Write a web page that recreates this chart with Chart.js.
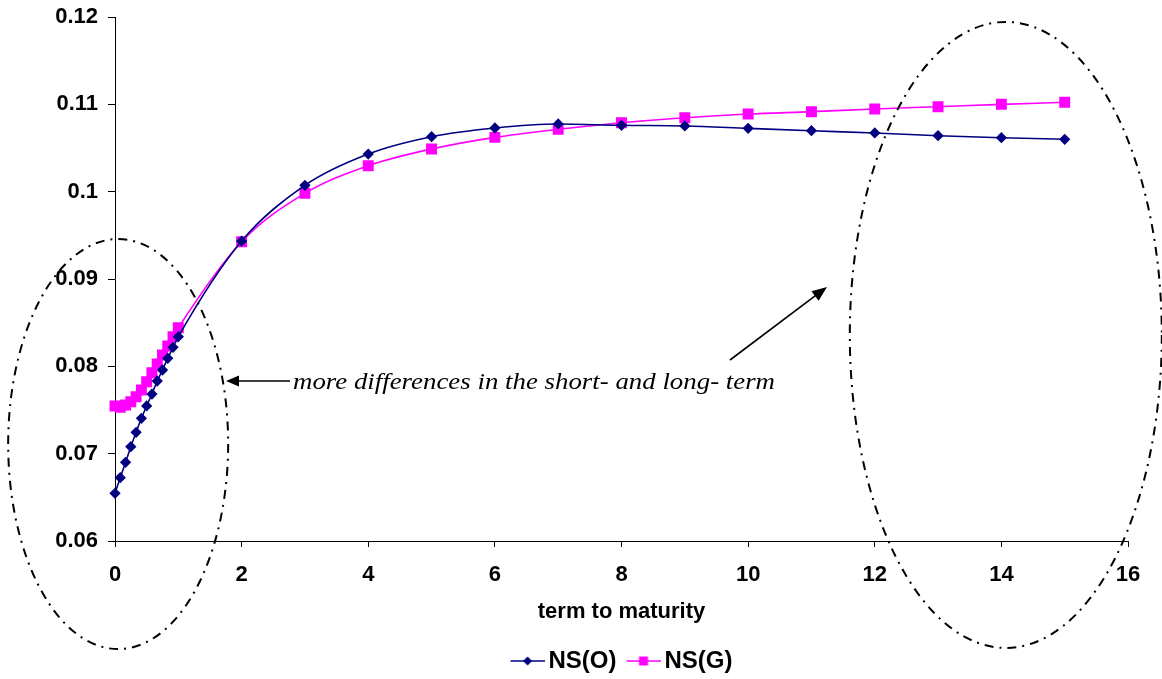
<!DOCTYPE html>
<html>
<head>
<meta charset="utf-8">
<script src="https://cdn.jsdelivr.net/npm/chart.js@4/dist/chart.umd.min.js"></script>
<style>
  html, body { margin: 0; padding: 0; background: #ffffff; }
  #wrap { width: 1162px; height: 679px; position: relative; }
</style>
</head>
<body>
<div id="wrap"><canvas id="c" width="1162" height="679"></canvas></div>
<script>
// ---- data ----
const maturities = [0, 0.0833, 0.1667, 0.25, 0.3333, 0.4167, 0.5, 0.5833, 0.6667, 0.75, 0.8333, 0.9167, 1,
                    2, 3, 4, 5, 6, 7, 8, 9, 10, 11, 12, 13, 14, 15];
const nsO = [0.06546, 0.06725, 0.06901, 0.07080, 0.07244, 0.07405, 0.07546, 0.07683, 0.07832, 0.07958, 0.08092, 0.08218, 0.08339,
             0.09435, 0.10073, 0.10431, 0.10629, 0.10729, 0.10775, 0.10760, 0.10752, 0.10725, 0.10698, 0.10672, 0.10641, 0.10618, 0.10600];
const nsG = [0.07546, 0.07531, 0.07557, 0.07595, 0.07652, 0.07729, 0.07824, 0.07927, 0.08027, 0.08130, 0.08233, 0.08339, 0.08442,
             0.09427, 0.09981, 0.10297, 0.10489, 0.10622, 0.10714, 0.10790, 0.10847, 0.10889, 0.10916, 0.10947, 0.10973, 0.11000, 0.11023];
const seriesNames = ['NS(O)', 'NS(G)'];
const yTicks = [0.06, 0.07, 0.08, 0.09, 0.1, 0.11, 0.12];
const xTicks = [0, 2, 4, 6, 8, 10, 12, 14, 16];
const xTitle = 'term to maturity';
const noteText = 'more differences in the short- and long- term';

const BLUE = '#000080';
const PINK = '#FF00FF';
const FONT = '"Liberation Sans", Arial, sans-serif';

function legendIcon(color, shape) {
  // visible symbol is 34px wide, offset 4px right of the canvas centre
  const c = document.createElement('canvas');
  c.width = 42; c.height = 14;
  const g = c.getContext('2d');
  g.strokeStyle = color; g.lineWidth = 1.5;
  g.beginPath(); g.moveTo(8, 7); g.lineTo(42, 7); g.stroke();
  g.fillStyle = color;
  g.beginPath();
  if (shape === 'diamond') {
    g.moveTo(25, 2.5); g.lineTo(29.5, 7); g.lineTo(25, 11.5); g.lineTo(20.5, 7);
  } else {
    g.rect(20.5, 2.5, 9, 9);
  }
  g.closePath(); g.fill();
  return c;
}
const icons = [legendIcon(BLUE, 'diamond'), legendIcon(PINK, 'square')];

const toPts = (ys) => ys.map((y, i) => ({ x: maturities[i], y: y }));

const annot = {
  id: 'annot',
  afterDraw(chart) {
    const ctx = chart.ctx;
    const xs = chart.scales.x, ys = chart.scales.y;
    ctx.save();
    ctx.strokeStyle = '#000'; ctx.lineWidth = 2;
    ctx.setLineDash([9, 6, 2, 6]);
    // left ellipse (around short end)
    ctx.beginPath();
    ctx.ellipse(xs.getPixelForValue(0.05), ys.getPixelForValue(0.0711), 110, 205, 0, 0, Math.PI * 2);
    ctx.stroke();
    // right ellipse (around long end)
    ctx.beginPath();
    ctx.ellipse(xs.getPixelForValue(14.07), ys.getPixelForValue(0.0836), 156, 313, 0, 0, Math.PI * 2);
    ctx.stroke();
    ctx.setLineDash([]);
    // arrows
    function arrow(x1, y1, x2, y2, head, hw) {
      const a = Math.atan2(y2 - y1, x2 - x1);
      ctx.lineWidth = 1.6;
      ctx.beginPath(); ctx.moveTo(x1, y1);
      ctx.lineTo(x2 - Math.cos(a) * head * 0.8, y2 - Math.sin(a) * head * 0.8); ctx.stroke();
      ctx.beginPath();
      ctx.moveTo(x2, y2);
      ctx.lineTo(x2 - Math.cos(a) * head + Math.sin(a) * hw, y2 - Math.sin(a) * head - Math.cos(a) * hw);
      ctx.lineTo(x2 - Math.cos(a) * head - Math.sin(a) * hw, y2 - Math.sin(a) * head + Math.cos(a) * hw);
      ctx.closePath(); ctx.fillStyle = '#000'; ctx.fill();
    }
    arrow(290, 381, 226, 381, 13, 5.5);
    arrow(730, 360, 827, 287, 15, 6);
    // note text (stretched horizontally like the reference)
    ctx.fillStyle = '#000';
    ctx.font = 'italic 23px "Liberation Serif", "Times New Roman", serif';
    ctx.textBaseline = 'middle';
    ctx.textAlign = 'left';
    const w = ctx.measureText(noteText).width;
    const sx = 482 / w;
    ctx.translate(293, 383);
    ctx.scale(sx, 1);
    ctx.fillText(noteText, 0, 0);
    ctx.restore();
  }
};

new Chart(document.getElementById('c'), {
  type: 'line',
  data: {
    datasets: [
      {
        label: seriesNames[0], data: toPts(nsO),
        borderColor: BLUE, backgroundColor: BLUE, borderWidth: 1.6,
        pointStyle: 'rectRot', pointRadius: 4.5, pointHoverRadius: 4.5,
        cubicInterpolationMode: 'monotone', fill: false, clip: false
      },
      {
        label: seriesNames[1], data: toPts(nsG),
        borderColor: PINK, backgroundColor: PINK, borderWidth: 1.6,
        pointStyle: 'rect', pointRadius: 6.6, pointHoverRadius: 6.6,
        cubicInterpolationMode: 'monotone', fill: false, clip: false
      }
    ]
  },
  options: {
    responsive: false,
    animation: false,
    events: [],
    layout: { padding: { top: 17, right: 34, left: 0, bottom: -4 } },
    scales: {
      x: {
        type: 'linear', min: 0, max: 16,
        afterBuildTicks: (s) => { s.ticks = xTicks.map(v => ({ value: v })); },
        afterFit: (s) => { s.height = 98; s.paddingLeft = 0; s.paddingRight = 0; },
        ticks: { color: '#000', font: { family: FONT, size: 22, weight: 'bold' }, padding: 15, maxRotation: 0 },
        grid: { display: true, drawOnChartArea: false, drawTicks: true, tickLength: 6, color: '#000', lineWidth: 1 },
        border: { display: true, color: '#000', width: 1 },
        title: { display: true, text: xTitle, color: '#000', font: { family: FONT, size: 22, weight: 'bold' }, padding: { top: 4, bottom: 14 } }
      },
      y: {
        min: 0.06, max: 0.12,
        afterBuildTicks: (s) => { s.ticks = yTicks.map(v => ({ value: v })); },
        afterFit: (s) => { s.width = 115; s.paddingTop = 0; s.paddingBottom = 0; },
        ticks: { color: '#000', font: { family: FONT, size: 22, weight: 'bold' }, padding: 10,
                 callback: (v) => String(+Number(v).toFixed(2)) },
        grid: { display: true, drawOnChartArea: false, drawTicks: true, tickLength: 7, color: '#000', lineWidth: 1 },
        border: { display: true, color: '#000', width: 1 }
      }
    },
    plugins: {
      legend: {
        display: true, position: 'bottom', fullSize: false,
        labels: {
          color: '#000', font: { family: FONT, size: 24, weight: 'bold' },
          usePointStyle: true, pointStyleWidth: 26, padding: 10,
          generateLabels: (chart) => seriesNames.map((n, i) => ({
            text: n, pointStyle: icons[i], datasetIndex: i, fontColor: '#000',
            strokeStyle: 'transparent', fillStyle: 'transparent', lineWidth: 0, hidden: false
          }))
        }
      },
      tooltip: { enabled: false }
    }
  },
  plugins: [annot]
});
</script>
</body>
</html>
